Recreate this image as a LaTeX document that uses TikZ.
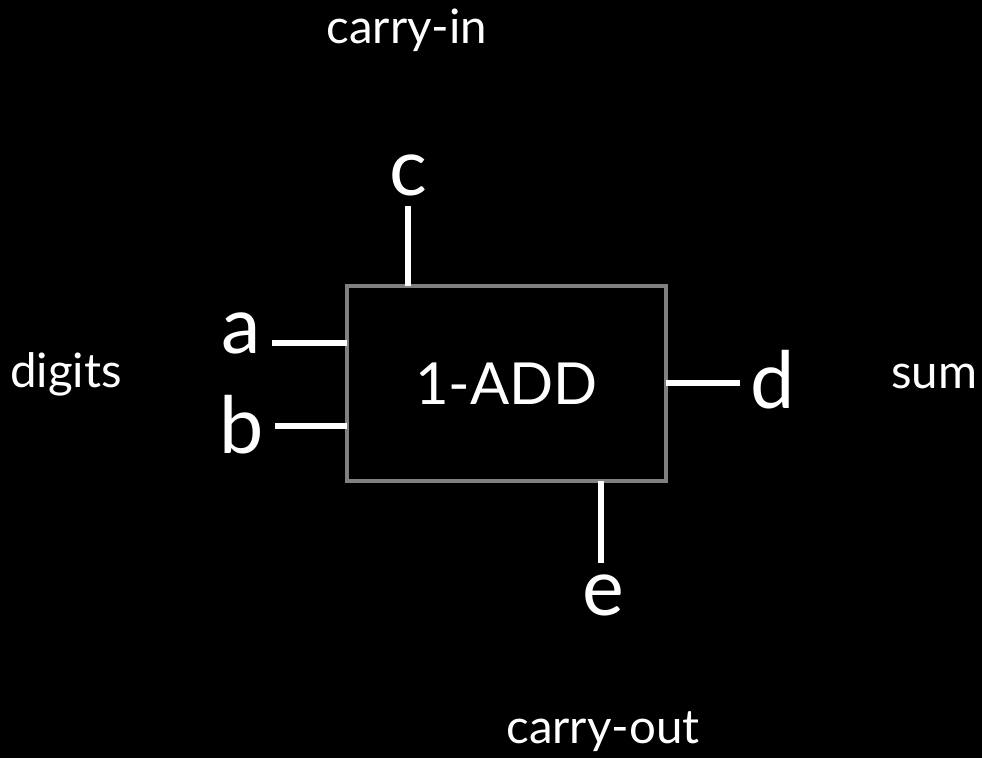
\documentclass[tikz,border=0pt]{standalone}
\usepackage{fontspec}
\setmainfont{Lato}
\usetikzlibrary{positioning}
\begin{document}
\begin{tikzpicture}[x=0.02cm, y=-0.02cm,
        unit/.style={draw=gray, line width=2.2pt, fill=black, text=white,
                     minimum width=6.38cm, minimum height=3.9cm, inner sep=0pt,
                     font=\fontsize{33}{40}\selectfont},
        port/.style={text=white, inner sep=0.21cm, anchor=base,
                     font=\fontsize{45}{54}\selectfont},
        note/.style={text=white, inner sep=0pt, anchor=base,
                     font=\fontsize{27}{32}\selectfont},
        wire/.style={draw=white, line width=3.2pt}]
      \fill[black] (0,0) rectangle (982,758);
      \useasboundingbox (0,0) rectangle (982,758);
      \node[unit] (adder) at (506.5,383.5) {1-ADD};
      \coordinate (pa) at (347,343);
      \coordinate (pb) at (347,426);
      \coordinate (pc) at (408,286);
      \coordinate (pd) at (666,383);
      \coordinate (pe) at (601,481);
      \node[port] (a) at (241,353) {a};
      \node[port] (b) at (242,453) {b};
      \node[port] (c) at (408,195) {c};
      \node[port] (d) at (773,408) {d};
      \node[port] (e) at (603,615) {e};
      \node[note] (carryin)  at (407,43)  {carry-in};
      \node[note] (digits)   at (66,387)  {digits};
      \node[note] (sum)      at (934,388) {sum};
      \node[note] (carryout) at (603,743) {carry-out};
      \draw[wire] (a.east |- pa) -- (pa);
      \draw[wire] (b.east |- pb) -- (pb);
      \draw[wire] (c.south -| pc) -- (pc);
      \draw[wire] (pd) -- (d.west |- pd);
      \draw[wire] (pe) -- (e.north -| pe);
    \end{tikzpicture}
\end{document}
